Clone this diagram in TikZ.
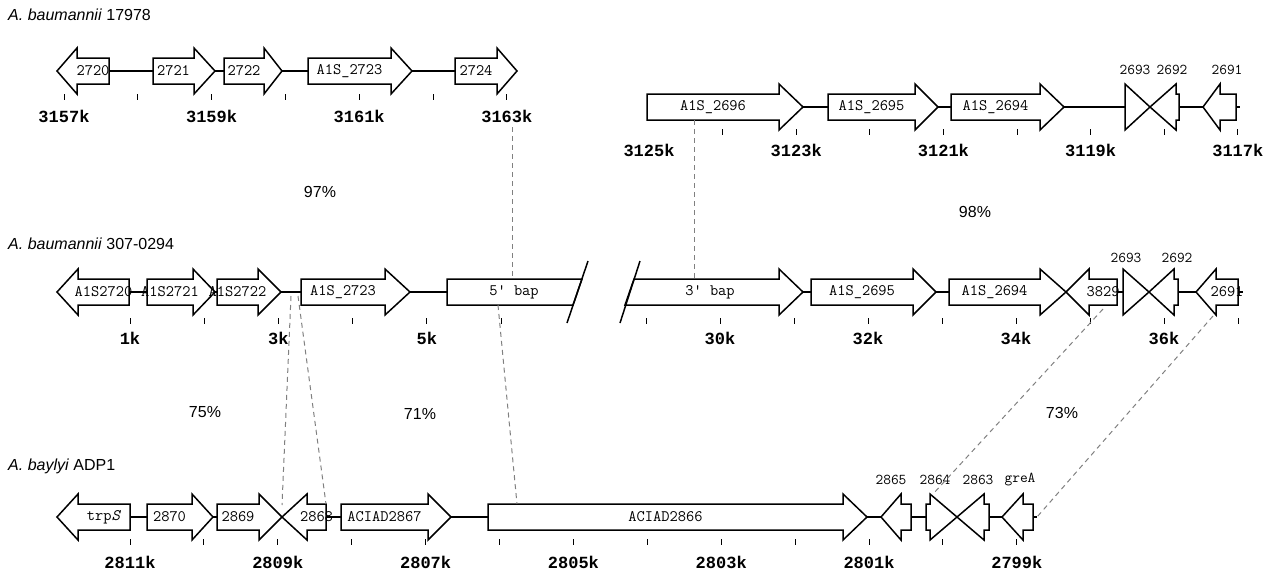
\documentclass[tikz,border=0pt]{standalone}
\usepackage{fontspec}
\setmainfont{Liberation Sans}
\newfontfamily\genefont{Latin Modern Mono}
\newfontfamily\kbfont{Liberation Mono}
\usepackage{tikz}

% gene arrow: name, tail x, head base x, tip x, y, label
\newcommand{\gene}[6]{%
  \draw[genebox] (#2,#5-13) -- (#3,#5-13) -- (#3,#5-23) -- (#4,#5) -- (#3,#5+23) -- (#3,#5+13) -- (#2,#5+13) -- cycle;
  \node[genename] (#1) at ({(#2+#3)/2},#5) {#6};
}

\begin{document}
\begin{tikzpicture}[x=1pt,y=-1pt,
    genebox/.style={draw=black,fill=white,line width=1.5pt,line join=miter},
    genename/.style={inner sep=0pt,font=\fontsize{16}{16}\selectfont\genefont},
    smallname/.style={inner sep=0pt,font=\fontsize{15}{15}\selectfont\genefont},
    backbone/.style={line width=1.5pt},
    tickmark/.style={line width=1pt},
    kblabel/.style={inner sep=0pt,font=\fontsize{17}{18}\selectfont\kbfont\bfseries},
    strain/.style={inner sep=0pt,anchor=west,font=\fontsize{16}{18}\selectfont},
    identity/.style={inner sep=0pt,font=\fontsize{16}{18}\selectfont},
    homology/.style={gray,line width=1pt,dash pattern=on 5pt off 4pt}]
  \useasboundingbox (0,0) rectangle (1264,571);

  % Strain names
  \node[strain] (s1) at (8,15) {\textit{A. baumannii} 17978};
  \node[strain] (s2) at (8,244) {\textit{A. baumannii} 307-0294};
  \node[strain] (s3) at (8,466) {\textit{A. baylyi} ADP1};

  % Row 1, left part
  \draw[backbone] (57,71) -- (517,71);
  \gene{g2720}{109}{77}{57}{71}{2720}
  \gene{g2721}{153}{194}{215}{71}{2721}
  \gene{g2722}{224}{264}{282}{71}{2722}
  \gene{g2723a}{308}{391}{412}{71}{A1S\_2723}
  \gene{g2724}{455}{497}{517}{71}{2724}
  \foreach \i in {0,...,6}
    \draw[tickmark] ({64+73.8*\i},94) -- ({64+73.8*\i},100);
  \foreach \i/\t in {0/3157k,2/3159k,4/3161k,6/3163k}
    \node[kblabel] (ka\i) at ({64+73.8*\i},116) {\t};

  % Row 1, right part
  \draw[backbone] (647,107) -- (1240,107);
  \gene{g2696}{647}{779}{803}{107}{A1S\_2696}
  \gene{g2695a}{828}{915}{938}{107}{A1S\_2695}
  \gene{g2694a}{951}{1040}{1064}{107}{A1S\_2694}
  \gene{g2693a}{1125}{1125}{1150}{107}{}
  \gene{g2692a}{1179}{1176}{1150}{107}{}
  \gene{g2691a}{1236}{1220}{1203}{107}{}
  \node[smallname] (n2693a) at (1135,70) {2693};
  \node[smallname] (n2692a) at (1172,70) {2692};
  \node[smallname] (n2691a) at (1227,70) {2691};
  \foreach \i in {1,...,8}
    \draw[tickmark] ({649+73.6*\i},129) -- ({649+73.6*\i},135);
  \foreach \i/\t in {0/3125k,2/3123k,4/3121k,6/3119k,8/3117k}
    \node[kblabel] (kb\i) at ({649+73.6*\i},150) {\t};

  % Row 2, left part
  \draw[backbone] (57,292) -- (447,292);
  \gene{g1S2720}{129}{78}{57}{292}{A1S2720}
  \gene{g1S2721}{147}{193}{215}{292}{A1S2721}
  \gene{g1S2722}{217}{258}{281}{292}{A1S2722}
  \gene{g2723b}{301}{385}{410}{292}{A1S\_2723}
  \draw[genebox] (447,279) -- (582,279) -- (573,305) -- (447,305) -- cycle;
  \draw[line width=1.5pt] (588,261) -- (567,323);
  \node[genename] (bap5) at (514,292) {5' bap};
  \foreach \i in {0,...,5}
    \draw[tickmark] ({130+74.2*\i},318) -- ({130+74.2*\i},324);
  \foreach \i/\t in {0/1k,2/3k,4/5k}
    \node[kblabel] (kc\i) at ({130+74.2*\i},338) {\t};

  % Row 2, right part
  \draw[backbone] (803,292) -- (1243,292);
  \draw[genebox] (634,279) -- (779,279) -- (779,269) -- (803,292) -- (779,315) -- (779,305) -- (625,305) -- cycle;
  \draw[line width=1.5pt] (640,261) -- (620,323);
  \node[genename] (bap3) at (710,292) {3' bap};
  \gene{g2695b}{811}{913}{936}{292}{A1S\_2695}
  \gene{g2694b}{949}{1040}{1066}{292}{A1S\_2694}
  \gene{g3829}{1117}{1089}{1066}{292}{3829}
  \gene{g2693b}{1123}{1123}{1149}{292}{}
  \gene{g2692b}{1178}{1174}{1149}{292}{}
  \gene{g2691b}{1238}{1216}{1196}{292}{2691}
  \node[smallname] (n2693b) at (1126,258) {2693};
  \node[smallname] (n2692b) at (1177,258) {2692};
  \foreach \i in {0,...,8}
    \draw[tickmark] ({646+74*\i},318) -- ({646+74*\i},324);
  \foreach \i/\t in {1/30k,3/32k,5/34k,7/36k}
    \node[kblabel] (kd\i) at ({646+74*\i},338) {\t};

  % Row 3
  \draw[backbone] (57,517) -- (1037,517);
  \gene{gtrpS}{130}{78}{57}{517}{trp\textit{S}}
  \gene{g2870}{147}{192}{213}{517}{2870}
  \gene{g2869}{217}{259}{282}{517}{2869}
  \gene{g2868}{326}{307}{282}{517}{2868}
  \gene{g2867}{341}{428}{451}{517}{ACIAD2867}
  \gene{g2866}{488}{843}{867}{517}{ACIAD2866}
  \gene{g2865}{911}{901}{881}{517}{}
  \gene{g2864}{926}{930}{957}{517}{}
  \gene{g2863}{989}{984}{957}{517}{}
  \gene{ggreA}{1033}{1023}{1002}{517}{}
  \node[smallname] (n2865) at (891,480) {2865};
  \node[smallname] (n2864) at (935,480) {2864};
  \node[smallname] (n2863) at (978,480) {2863};
  \node[smallname] (ngreA) at (1020,480) {greA};
  \foreach \i in {0,...,12}
    \draw[tickmark] ({130+73.9*\i},539) -- ({130+73.9*\i},545);
  \foreach \i/\t in {0/2811k,2/2809k,4/2807k,6/2805k,8/2803k,10/2801k,12/2799k}
    \node[kblabel] (ke\i) at ({130+73.9*\i},562) {\t};

  % Homologous regions
  \coordinate (h1a) at (512,127);  \coordinate (h1b) at (512,279);
  \coordinate (h2a) at (694,120);  \coordinate (h2b) at (694,279);
  \coordinate (h3a) at (291,296);  \coordinate (h3b) at (282,505);
  \coordinate (h4a) at (298,296);  \coordinate (h4b) at (326,504);
  \coordinate (h5a) at (498,305);  \coordinate (h5b) at (517,504);
  \coordinate (h6a) at (1103,309); \coordinate (h6b) at (933,494);
  \coordinate (h7a) at (1213,316); \coordinate (h7b) at (1037,517);
  \draw[homology] (h1a) -- (h1b);
  \draw[homology] (h2a) -- (h2b);
  \draw[homology] (h3a) -- (h3b);
  \draw[homology] (h4a) -- (h4b);
  \draw[homology] (h5a) -- (h5b);
  \draw[homology] (h6a) -- (h6b);
  \draw[homology] (h7a) -- (h7b);

  % Identities
  \node[identity] (p97) at (320,192) {97\%};
  \node[identity] (p98) at (975,212) {98\%};
  \node[identity] (p75) at (205,412) {75\%};
  \node[identity] (p71) at (420,414) {71\%};
  \node[identity] (p73) at (1062,413) {73\%};
\end{tikzpicture}
\end{document}
